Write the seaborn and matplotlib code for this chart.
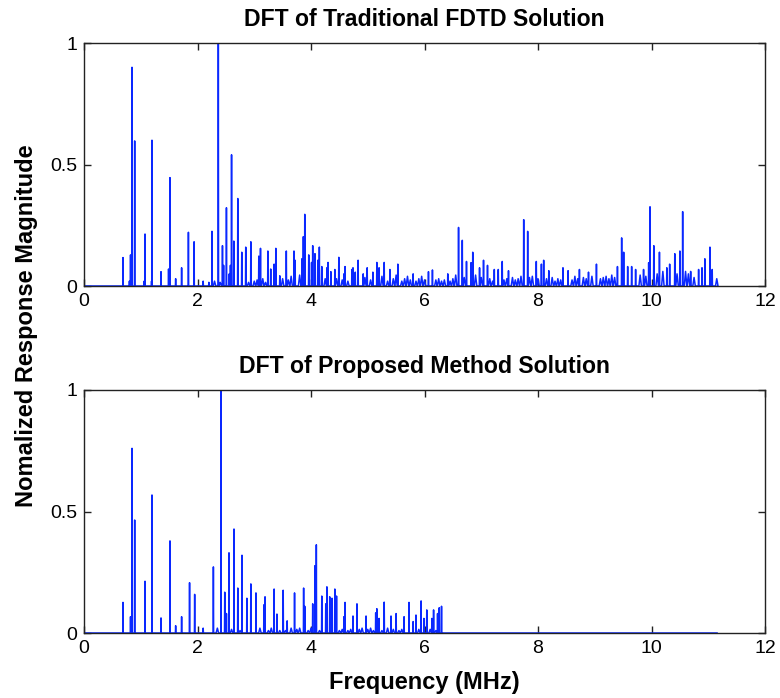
import numpy as np
import pandas as pd
import matplotlib
matplotlib.use("Agg")
import matplotlib.pyplot as plt
import seaborn as sns

# ---------------- data ----------------
top_freq = [0.687, 0.80, 0.82, 0.846, 0.893, 1.06, 1.075, 1.19, 1.198, 1.357, 1.49, 1.515, 1.615,
            1.72, 1.84, 1.94, 2.10, 2.20, 2.255, 2.367, 2.44, 2.46, 2.51, 2.56, 2.58, 2.60, 2.64,
            2.71, 2.78, 2.85, 2.94, 3.08, 3.11, 3.24, 3.29, 3.35, 3.38, 3.45, 3.565, 3.70, 3.72,
            3.84, 3.865, 3.89, 3.96, 4.01, 4.03, 4.07, 4.12, 4.147, 4.19, 4.28, 4.30, 4.35, 4.42,
            4.49, 4.58, 4.60, 4.72, 4.74, 4.78, 4.83, 4.92, 4.99, 5.09, 5.16, 5.20, 5.29, 5.39,
            5.53, 5.80, 6.07, 6.14, 6.41, 6.60, 6.666, 6.74, 6.82, 6.85, 6.97, 7.04, 7.11, 7.23,
            7.30, 7.37, 7.48, 7.748, 7.818, 7.97, 8.06, 8.10, 8.19, 8.44, 8.53, 8.73, 8.89, 9.03,
            9.40, 9.474, 9.51, 9.58, 9.65, 9.72, 9.86, 9.95, 9.974, 10.04, 10.14, 10.27, 10.32,
            10.41, 10.50, 10.549, 10.69, 10.83, 10.89, 10.94, 11.03, 11.07]
top_mag = [0.117, 0.02, 0.128, 0.90, 0.597, 0.02, 0.214, 0.02, 0.60, 0.059, 0.07, 0.446, 0.03,
           0.075, 0.221, 0.182, 0.02, 0.015, 0.225, 1.0, 0.166, 0.085, 0.322, 0.05, 0.085, 0.54, 0.185,
           0.36, 0.139, 0.16, 0.182, 0.123, 0.155, 0.144, 0.07, 0.09, 0.155, 0.042, 0.144, 0.144, 0.106,
           0.112, 0.203, 0.295, 0.128, 0.097, 0.166, 0.133, 0.106, 0.16, 0.08, 0.075, 0.097, 0.059, 0.068,
           0.118, 0.05, 0.08, 0.068, 0.075, 0.057, 0.106, 0.05, 0.075, 0.057, 0.097, 0.075, 0.097, 0.068,
           0.09, 0.05, 0.059, 0.066, 0.05, 0.241, 0.188, 0.101, 0.096, 0.139, 0.075, 0.106, 0.085, 0.068,
           0.068, 0.101, 0.063, 0.273, 0.225, 0.101, 0.09, 0.106, 0.063, 0.075, 0.063, 0.068, 0.057, 0.09,
           0.08, 0.198, 0.139, 0.08, 0.08, 0.068, 0.068, 0.096, 0.326, 0.166, 0.139, 0.075, 0.09,
           0.133, 0.144, 0.306, 0.06, 0.068, 0.075, 0.112, 0.16, 0.068]

# dense low-level floor, one bin every 0.05 MHz starting at 2.30 MHz
top_floor_start = 2.30
top_floor = [0.02, 0.03, 0.015, 0.04, 0.02, 0.03, 0.025, 0.015, 0.03, 0.02, 0.035, 0.02, 0.015, 0.03, 0.02,
             0.025, 0.02, 0.03, 0.015, 0.02, 0.035, 0.02, 0.025, 0.015, 0.03, 0.02, 0.025, 0.04, 0.02, 0.03,
             0.045, 0.025, 0.03, 0.02, 0.035,
             0.03, 0.025, 0.04, 0.02, 0.03, 0.025, 0.035, 0.02, 0.03, 0.04, 0.025, 0.03, 0.02, 0.035, 0.045,
             0.025, 0.03, 0.02, 0.035, 0.03,
             0.025, 0.035, 0.02, 0.03, 0.04, 0.025, 0.02, 0.035, 0.03, 0.045, 0.025, 0.02, 0.03, 0.04, 0.025,
             0.035, 0.02, 0.03, 0.04, 0.025,
             0.03, 0.02, 0.035, 0.025, 0.03, 0.02, 0.025, 0.035, 0.02, 0.03, 0.045, 0.03, 0.025, 0.035, 0.04,
             0.03, 0.025, 0.045, 0.03, 0.035,
             0.025, 0.04, 0.03, 0.02, 0.035, 0.03, 0.04, 0.025, 0.03, 0.02, 0.035, 0.025, 0.03, 0.04, 0.03,
             0.05, 0.035, 0.04, 0.045, 0.03,
             0.035, 0.04, 0.03, 0.025, 0.035, 0.02, 0.03, 0.025, 0.04, 0.03, 0.035, 0.025, 0.04, 0.03, 0.02,
             0.035, 0.03, 0.025, 0.04, 0.03,
             0.025, 0.03, 0.035, 0.04, 0.03, 0.045, 0.035, 0.04, 0.05, 0.035, 0.04, 0.045, 0.035, 0.05, 0.04,
             0.045, 0.055, 0.04, 0.05, 0.06,
             0.055, 0.05, 0.045, 0.06, 0.05, 0.065, 0.055, 0.06, 0.05, 0.045, 0.055, 0.06, 0.05, 0.04, 0.035,
             0.045, 0.04, 0.05, 0.045, 0.04,
             0.05, 0.04, 0.03]

bot_freq = [0.687, 0.82, 0.846, 0.893, 1.075, 1.198, 1.357, 1.515, 1.615, 1.72, 1.86, 1.95, 2.10,
            2.28, 2.414, 2.48, 2.51, 2.555, 2.643, 2.71, 2.784, 2.87, 2.94, 3.03, 3.17, 3.19, 3.35,
            3.40, 3.51, 3.58, 3.71, 3.87, 3.89, 4.03, 4.07, 4.094, 4.19, 4.26, 4.28, 4.33, 4.37,
            4.42, 4.45, 4.58, 4.60, 4.74, 4.81, 4.97, 5.14, 5.16, 5.20, 5.29, 5.41, 5.50, 5.64,
            5.727, 5.80, 5.85, 5.94, 5.99, 6.04, 6.13, 6.16, 6.23, 6.26, 6.30]
bot_mag = [0.126, 0.067, 0.76, 0.465, 0.213, 0.568, 0.062, 0.379, 0.03, 0.067, 0.207, 0.159, 0.02,
           0.272, 1.0, 0.168, 0.08, 0.33, 0.428, 0.185, 0.32, 0.143, 0.202, 0.165, 0.116, 0.149, 0.181,
           0.078, 0.176, 0.05, 0.165, 0.185, 0.11, 0.12, 0.277, 0.363, 0.152, 0.12, 0.19, 0.149, 0.143,
           0.181, 0.152, 0.067, 0.126, 0.07, 0.12, 0.07, 0.083, 0.10, 0.06, 0.127, 0.07, 0.08, 0.067,
           0.126, 0.047, 0.074, 0.132, 0.06, 0.095, 0.06, 0.095, 0.08, 0.104, 0.11]

bot_floor_start = 2.30
bot_floor = [0.01, 0.02, 0.015, 0.01, 0.02, 0.01, 0.015, 0.01, 0.02, 0.01, 0.015, 0.01, 0.02, 0.01, 0.015,
             0.01, 0.02, 0.01, 0.015, 0.01, 0.02, 0.01, 0.015, 0.01, 0.02, 0.01, 0.015, 0.02, 0.01, 0.015,
             0.02, 0.01, 0.015, 0.01, 0.02,
             0.015, 0.02, 0.01, 0.025, 0.015, 0.02, 0.01, 0.015, 0.02, 0.01, 0.015, 0.02, 0.01, 0.015, 0.02,
             0.01, 0.015, 0.02, 0.01, 0.015,
             0.02, 0.01, 0.015, 0.02, 0.01, 0.015, 0.02, 0.01, 0.015, 0.02, 0.01, 0.015, 0.02, 0.01, 0.015,
             0.02, 0.01, 0.015, 0.02, 0.01,
             0.02, 0.015, 0.02, 0.01, 0.02, 0.015]

f_end = 11.16
x_ticks = [0, 2, 4, 6, 8, 10, 12]
y_ticks = [0, 0.5, 1]
y_tick_labels = ["0", "0.5", "1"]
titles = ["DFT of Traditional FDTD Solution", "DFT of Proposed Method Solution"]


def spectrum(freq, mag, floor_start, floor, end):
    """Turn spike list + floor bins into a plottable polyline table."""
    main = sorted(zip(freq, mag))
    main_f = np.array([m[0] for m in main])
    pts = [(f, v, 0.004) for f, v in main]
    for i, v in enumerate(floor):
        f = round(floor_start + 0.05 * i, 4)
        if np.min(np.abs(main_f - f)) > 0.03:
            pts.append((f, v, 0.022))
    pts.sort()
    xs, ys = [0.0], [0.0]
    for f, v, d in pts:
        xs += [f - d, f, f + d]
        ys += [0.0, v, 0.0]
    xs.append(end)
    ys.append(0.0)
    return pd.DataFrame({"Frequency": xs, "Magnitude": ys})


df_top = spectrum(top_freq, top_mag, top_floor_start, top_floor, f_end)
df_bot = spectrum(bot_freq, bot_mag, bot_floor_start, bot_floor, f_end)

# ---------------- style ----------------
sns.set_style("white")
plt.rcParams["font.family"] = ["Liberation Sans", "DejaVu Sans"]
plt.rcParams["text.color"] = "black"
plt.rcParams["axes.labelcolor"] = "black"
plt.rcParams["axes.edgecolor"] = "#222222"
plt.rcParams["axes.linewidth"] = 1.0

W, H = 780, 698
fig = plt.figure(figsize=(W / 100, H / 100), dpi=100)
fig.patch.set_facecolor("white")

ax_left, ax_right = 84, 765
boxes = [(43, 286), (390, 633)]
axes = []
for (top, bottom) in boxes:
    ax = fig.add_axes([ax_left / W, 1 - bottom / H, (ax_right - ax_left) / W, (bottom - top) / H])
    axes.append(ax)

for ax, df, title in zip(axes, [df_top, df_bot], titles):
    sns.lineplot(data=df, x="Frequency", y="Magnitude", ax=ax, estimator=None, sort=False,
                 color="#0a28ff", linewidth=1.1)
    ax.set_xlim(0, 12)
    ax.set_ylim(0, 1)
    ax.set_xticks(x_ticks)
    ax.set_xticklabels([str(t) for t in x_ticks])
    ax.set_yticks(y_ticks)
    ax.set_yticklabels(y_tick_labels)
    ax.tick_params(direction="in", length=5, width=1, labelsize=14, pad=5,
                   top=True, right=True, bottom=True, left=True, colors="#222222",
                   labelcolor="black")
    ax.set_xlabel("")
    ax.set_ylabel("")
    ax.set_title(title, fontsize=16.6, fontweight="bold", pad=12, color="black")
    for s in ax.spines.values():
        s.set_visible(True)
        s.set_color("#222222")

fig.text(27 / W, 1 - 326 / H, "Nomalized Response Magnitude", rotation=90,
         ha="center", va="center", fontsize=17, fontweight="bold", color="black")
fig.text(424 / W, 1 - 682 / H, "Frequency (MHz)", ha="center", va="center",
         fontsize=17, fontweight="bold", color="black")

fig.savefig("out.png", dpi=100, facecolor="white")
